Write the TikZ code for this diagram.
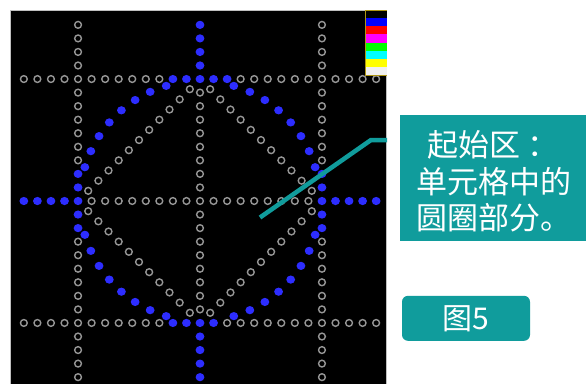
\documentclass[tikz,border=0pt]{standalone}
\usepackage{fontspec}
\newfontfamily\cjk{Noto Sans CJK SC}
\usetikzlibrary{calc}
\definecolor{teal1}{RGB}{16,156,156}
\definecolor{dotblue}{RGB}{45,45,255}
\definecolor{ringgrey}{RGB}{150,150,150}
\definecolor{legendedge}{RGB}{175,150,20}
\definecolor{lgA}{RGB}{0,0,0}
\definecolor{lgB}{RGB}{0,0,255}
\definecolor{lgC}{RGB}{255,0,0}
\definecolor{lgD}{RGB}{255,0,255}
\definecolor{lgE}{RGB}{0,255,0}
\definecolor{lgF}{RGB}{0,255,255}
\definecolor{lgG}{RGB}{255,255,0}
\definecolor{lgH}{RGB}{240,240,240}
\newcommand\gridu{13.55}
\begin{document}
\begin{tikzpicture}[x=1pt,y=-1pt,
  greydot/.style={draw=ringgrey,line width=1.4pt,fill=black},
  bluedot/.style={fill=dotblue},
  tealbox/.style={fill=teal1,draw=none},
  boxtext/.style={text=white,inner sep=0pt,font=\cjk\fontsize{31}{36}\selectfont,anchor=west}]
\useasboundingbox (0,0) rectangle (586,383);
\fill[white] (0,0) rectangle (586,383);
\filldraw[fill=black,draw=gray!50,line width=0.6pt] (10,10) rectangle (386,384);
% diamond
\coordinate (T) at (200,{201-9*\gridu});
\coordinate (L) at ({200-9*\gridu},201);
\coordinate (B) at (200,{201+9*\gridu});
\coordinate (R) at ({200+9*\gridu},201);
\foreach \a/\b in {T/L,L/B,B/R,R/T}
  \foreach \k in {1,...,11}
    \draw[greydot] ($(\a)!{\k/12}!(\b)$) circle[radius=3.4pt];
% horizontal rows
\foreach \r in {-9,0,9}{
  \foreach \i in {-13,...,13}{
    \pgfmathtruncatemacro\isblue{((\r==0 && abs(\i)>=9) || (\r==-9 && abs(\i)<=2) || (\r==9 && \i>=-2 && \i<=1)) ? 1 : 0}
    \ifnum\isblue=1
      \fill[bluedot] ({200+\i*\gridu},{201+\r*\gridu}) ellipse[x radius=4.4pt,y radius=4.1pt];
    \else
      \draw[greydot] ({200+\i*\gridu},{201+\r*\gridu}) circle[radius=3.4pt];
    \fi
  }
}
% vertical columns
\foreach \c in {-9,0,9}{
  \foreach \j in {-13,...,13}{
    \pgfmathtruncatemacro\skp{(\j==-9 || \j==0 || \j==9) ? 1 : 0}
    \ifnum\skp=0
      \pgfmathtruncatemacro\isblue{((\c==0 && abs(\j)>=9) || (\c!=0 && abs(\j)<=2)) ? 1 : 0}
      \ifnum\isblue=1
        \fill[bluedot] ({200+\c*\gridu},{201+\j*\gridu}) ellipse[x radius=4.4pt,y radius=4.1pt];
      \else
        \draw[greydot] ({200+\c*\gridu},{201+\j*\gridu}) circle[radius=3.4pt];
      \fi
    \fi
  }
}
% blue circle
\foreach \k in {0,...,43}{
  \pgfmathtruncatemacro\m{mod(\k,11)}
  \pgfmathtruncatemacro\skp{(\m==0 || \m==1 || \m==10) ? 1 : 0}
  \ifnum\skp=0
    \fill[bluedot] ({200+120*cos(\k*360/44)},{201+120*sin(\k*360/44)}) ellipse[x radius=4.4pt,y radius=4.1pt];
  \fi
}
% legend
\foreach \col [count=\n from 0] in {lgA,lgB,lgC,lgD,lgE,lgF,lgG,lgH}
  \fill[\col] (365,{10+8.125*\n}) rectangle (387,{10+8.125*(\n+1)});
\draw[legendedge,line width=0.8pt] (387,10) -- (365,10) -- (365,75) -- (387,75);
% callout line
\coordinate (p1) at (260,217.5);
\coordinate (p2) at (371,140);
\coordinate (p3) at (387,140);
\draw[teal1,line width=4.5pt] (p1) -- (p2) -- (p3);
% text box
\node[tealbox,minimum width=186pt,minimum height=126pt,anchor=north west,inner sep=0pt] (tb) at (400,115) {};
\node[boxtext] (t1) at (427,145) {起始区 ：};
\node[boxtext] (t2) at (416,181.5) {单元格中的};
\node[boxtext] (t3) at (416,218) {圆圈部分。};
% figure label
\node[fill=teal1,rounded corners=6pt,minimum width=128pt,minimum height=45pt,inner sep=0pt,text=white,font=\cjk\fontsize{30}{34}\selectfont] (fig) at (466,318.3) {图5};
\end{tikzpicture}
\end{document}
